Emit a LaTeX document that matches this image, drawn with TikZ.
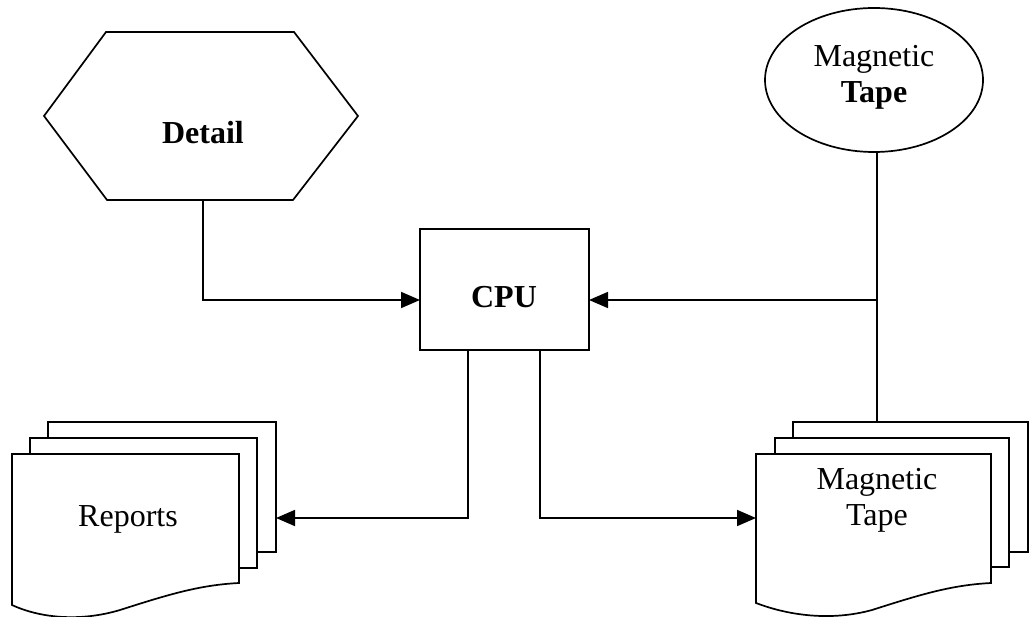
\documentclass[tikz,border=0pt]{standalone}
\usepackage{fontspec}
\setmainfont{Liberation Serif}
\usetikzlibrary{arrows.meta,shapes.geometric}
\begin{document}
\begin{tikzpicture}[x=1pt,y=-1pt,
  line width=1.7pt,
  every node/.style={font=\fontsize{32}{36}\selectfont, align=center, inner sep=0pt},
  arr/.style={-{Triangle[length=19pt,width=16pt]}},
  page/.style={draw, fill=white},
]
\useasboundingbox[fill=white] (0,0) rectangle (1032,617);
% Detail hexagon
\node (detail) [minimum width=314pt, minimum height=168pt] at (201,116) {};
\draw (44,116) -- (106,32) -- (294,32) -- (358,116) -- (293,200) -- (107,200) -- cycle;
\node (detailtxt) at (203,133) {\textbf{Detail}};
% CPU
\node (cpu) [draw, minimum width=169pt, minimum height=121pt] at (504.5,289.5) {};
\node (cputxt) at (504,297) {\textbf{CPU}};
% Magnetic tape (ellipse)
\node (mt) [draw, ellipse, minimum width=218pt, minimum height=144pt] at (874,80) {};
\node (mttxt) at (874,77) {Magnetic\\\textbf{Tape}};
% Reports documents
\draw[page] (48,422) rectangle (276,552);
\draw[page] (30,438) rectangle (257,568);
\draw[page] (12,454) -- (239,454) -- (239,583) .. controls (200,585) and (170,594) .. (120,610) .. controls (80,622) and (40,618) .. (12,605) -- cycle;
\node (reports) at (128,519) {Reports};
% Magnetic tape documents
\draw[page] (793,422) rectangle (1028,552);
\draw[page] (775,438) rectangle (1009,567);
\draw[page] (756,454) -- (991,454) -- (991,583) .. controls (952,585) and (922,594) .. (872,610) .. controls (832,621) and (790,616) .. (756,603) -- cycle;
\node (tapedoc) at (877,500) {Magnetic\\Tape};
% coordinates
\coordinate (cpuL) at (420,300);
\coordinate (cpuR) at (589,300);
\coordinate (tapetop) at (877,422);
\coordinate (j) at (877,300);
\coordinate (rin) at (276,518);
\coordinate (tin) at (756,518);
% connectors
\draw[arr] ([xshift=2pt]detail.south) |- (cpuL);
\draw (mt.south -| tapetop) -- (tapetop);
\draw[arr] (j) -- (cpuR);
\draw[arr] ([xshift=-36.5pt]cpu.south) |- (rin);
\draw[arr] ([xshift=35.5pt]cpu.south) |- (tin);
\end{tikzpicture}
\end{document}
